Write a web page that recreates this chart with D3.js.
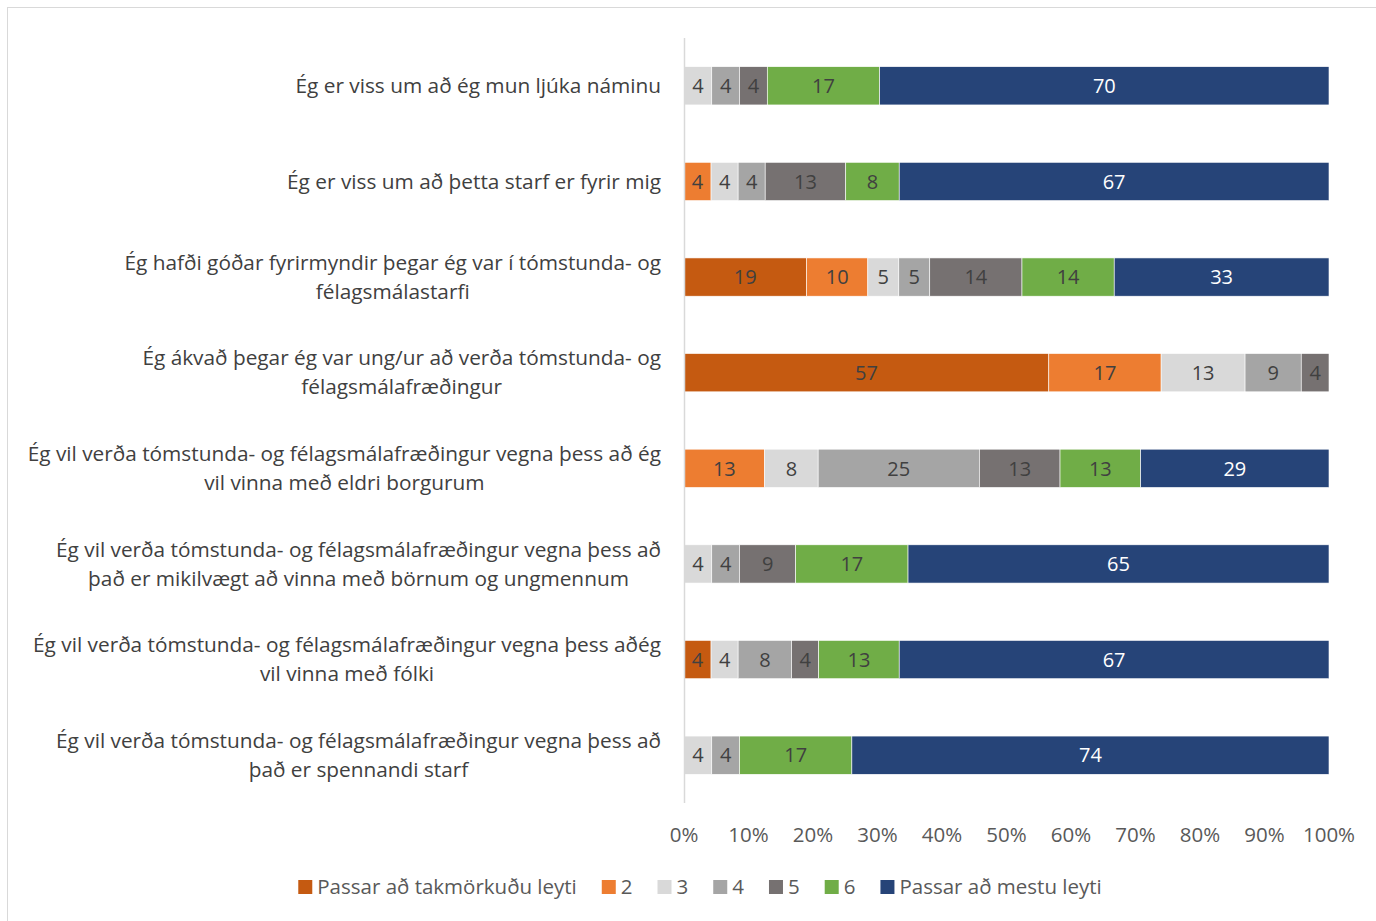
<!DOCTYPE html>
<html>
<head>
<meta charset="utf-8">
<script src="https://cdn.jsdelivr.net/npm/d3@7"></script>
<style>
  html, body { margin: 0; padding: 0; background: #fff; }
  svg text { font-family: "Open Sans", Lato, sans-serif; }
</style>
</head>
<body>
<div id="chart"></div>
<script>
// questions, one array of lines per bar
var questions = [
  ["Ég er viss um að ég mun ljúka náminu"],
  ["Ég er viss um að þetta starf er fyrir mig"],
  ["Ég hafði góðar fyrirmyndir þegar ég var í tómstunda- og", "félagsmálastarfi"],
  ["Ég ákvað þegar ég var ung/ur að verða tómstunda- og", "félagsmálafræðingur"],
  ["Ég vil verða tómstunda- og félagsmálafræðingur vegna þess að ég", "vil vinna með eldri borgurum"],
  ["Ég vil verða tómstunda- og félagsmálafræðingur vegna þess að", "það er mikilvægt að vinna með börnum og ungmennum"],
  ["Ég vil verða tómstunda- og félagsmálafræðingur vegna þess aðég", "vil vinna með fólki"],
  ["Ég vil verða tómstunda- og félagsmálafræðingur vegna þess að", "það er spennandi starf"]
];

var seriesNames = ["Passar að takmörkuðu leyti", "2", "3", "4", "5", "6", "Passar að mestu leyti"];

// series values (percent), same order as questions
var takmorkudu = [0, 0, 19.0, 56.5, 0, 0, 4.2, 0];
var val2 = [0, 4.2, 9.5, 17.4, 12.5, 0, 0, 0];
var val3 = [4.3, 4.2, 4.8, 13.0, 8.3, 4.3, 4.2, 4.3];
var val4 = [4.3, 4.2, 4.8, 8.7, 25.0, 4.3, 8.3, 4.3];
var val5 = [4.3, 12.5, 14.3, 4.3, 12.5, 8.7, 4.2, 0];
var val6 = [17.4, 8.3, 14.3, 0, 12.5, 17.4, 12.5, 17.4];
var mestu = [69.6, 66.7, 33.3, 0, 29.2, 65.2, 66.7, 73.9];

var xTicks = [0, 0.1, 0.2, 0.3, 0.4, 0.5, 0.6, 0.7, 0.8, 0.9, 1];

var colors = ["#C55A11", "#ED7D31", "#D9D9D9", "#A5A5A5", "#767171", "#70AD47", "#264478"];

var W = 1376, H = 921;
var plotL = 684, plotR = 1329, plotT = 38, plotB = 803;

var allSeries = [takmorkudu, val2, val3, val4, val5, val6, mestu];

// table for the stack
var rows = questions.map(function(q, i){
  var r = { i: i };
  allSeries.forEach(function(s, k){ r["s" + k] = s[i]; });
  r.total = d3.sum(allSeries, function(s){ return s[i]; });
  return r;
});

var keys = seriesNames.map(function(d, k){ return "s" + k; });
var stacked = d3.stack().keys(keys)
  .value(function(d, key){ return d[key] / d.total; })(rows);

var svg = d3.select("#chart").append("svg")
  .attr("width", W)
  .attr("height", H);

// chart frame
svg.append("rect")
  .attr("x", 7.5).attr("y", 7.5)
  .attr("width", W).attr("height", H)
  .attr("fill", "none")
  .attr("stroke", "#d9d9d9")
  .attr("stroke-width", 1);

var x = d3.scaleLinear().domain([0, 1]).range([plotL, plotR]);
var y = d3.scaleBand().domain(d3.range(questions.length)).range([plotT, plotB]).paddingInner(0.6).paddingOuter(0.3);

// bars
var layer = svg.selectAll("g.layer")
  .data(stacked)
  .enter().append("g")
  .attr("class", "layer")
  .attr("fill", function(d, k){ return colors[k]; });

layer.selectAll("rect")
  .data(function(d){ return d; })
  .enter().append("rect")
  .attr("x", function(d){ return x(d[0]); })
  .attr("y", function(d){ return y(d.data.i); })
  .attr("width", function(d){ return x(d[1]) - x(d[0]); })
  .attr("height", y.bandwidth())
  .attr("stroke", "#fff")
  .attr("stroke-width", 0.6);

// data labels
var fmt = d3.format(".0f");
layer.each(function(s, k){
  d3.select(this).selectAll("text")
    .data(s.filter(function(d){ return d.data[s.key] > 0; }))
    .enter().append("text")
    .attr("x", function(d){ return (x(d[0]) + x(d[1])) / 2; })
    .attr("y", function(d){ return y(d.data.i) + y.bandwidth() / 2; })
    .attr("dy", "0.36em")
    .attr("text-anchor", "middle")
    .attr("font-size", "20px")
    .attr("fill", k == 6 ? "#ffffff" : "#404040")
    .text(function(d){ return fmt(d.data[s.key]); });
});

// vertical axis line
svg.append("line")
  .attr("x1", plotL + 0.5).attr("x2", plotL + 0.5)
  .attr("y1", plotT).attr("y2", plotB)
  .attr("stroke", "#d9d9d9")
  .attr("stroke-width", 1.5);

// category labels, lines centred on each other, block right aligned
var labelRight = 661, lineGap = 29;
questions.forEach(function(lines, i){
  var g = svg.append("g");
  var cy = y(i) + y.bandwidth() / 2;
  var texts = lines.map(function(t, j){
    return g.append("text")
      .attr("y", cy + (j - (lines.length - 1) / 2) * lineGap)
      .attr("dy", "0.34em")
      .attr("text-anchor", "middle")
      .attr("font-size", "20.8px")
      .attr("fill", "#404040")
      .text(t);
  });
  var maxW = d3.max(texts, function(t){ return t.node().getComputedTextLength(); });
  texts.forEach(function(t){ t.attr("x", labelRight - maxW / 2); });
});

// x tick labels
svg.selectAll("text.tick")
  .data(xTicks)
  .enter().append("text")
  .attr("class", "tick")
  .attr("x", function(d){ return x(d); })
  .attr("y", 835)
  .attr("dy", "0.36em")
  .attr("text-anchor", "middle")
  .attr("font-size", "20.5px")
  .attr("fill", "#595959")
  .text(d3.format(".0%"));

// legend
var legend = svg.append("g").attr("class", "legend");
var lx = 0;
seriesNames.forEach(function(name, k){
  var item = legend.append("g").attr("transform", "translate(" + lx + ",0)");
  item.append("rect")
    .attr("x", 0).attr("y", -7)
    .attr("width", 14).attr("height", 14)
    .attr("fill", colors[k]);
  var t = item.append("text")
    .attr("x", 19)
    .attr("dy", "0.36em")
    .attr("font-size", "20.5px")
    .attr("fill", "#595959")
    .text(name);
  lx += 19 + t.node().getComputedTextLength() + 25;
});
lx -= 25;
legend.attr("transform", "translate(" + (700 - lx / 2) + ",887)");
</script>
</body>
</html>
